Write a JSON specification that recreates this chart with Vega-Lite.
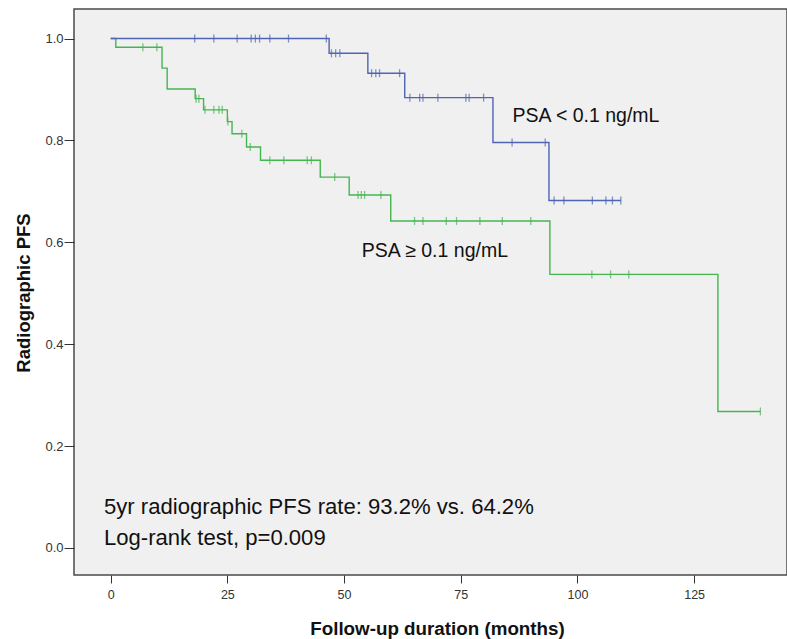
{
  "$schema": "https://vega.github.io/schema/vega-lite/v6.json",
  "width": 713,
  "height": 566,
  "autosize": {"type": "none"},
  "padding": {"left": 74, "top": 9, "right": 0, "bottom": 64},
  "background": "white",
  "config": {
    "font": "Liberation Sans",
    "view": {"fill": "#f0f0f0", "stroke": "#4a4a4a", "strokeWidth": 1.5},
    "axis": {"grid": false, "domain": false, "tickColor": "#333333", "tickWidth": 1, "labelColor": "#333333", "labelFont": "Liberation Sans", "titleFont": "Liberation Sans", "titleFontWeight": "bold", "titleColor": "#111111", "titleFontSize": 18.5}
  },
  "datasets": {
    "steps": [
      {"group": "PSA ≥ 0.1", "t": 0, "s": 1.0},
      {"group": "PSA ≥ 0.1", "t": 1.1, "s": 0.983},
      {"group": "PSA ≥ 0.1", "t": 11.0, "s": 0.942},
      {"group": "PSA ≥ 0.1", "t": 12.1, "s": 0.901},
      {"group": "PSA ≥ 0.1", "t": 18.1, "s": 0.882},
      {"group": "PSA ≥ 0.1", "t": 19.9, "s": 0.860},
      {"group": "PSA ≥ 0.1", "t": 25.0, "s": 0.837},
      {"group": "PSA ≥ 0.1", "t": 26.0, "s": 0.813},
      {"group": "PSA ≥ 0.1", "t": 29.1, "s": 0.787},
      {"group": "PSA ≥ 0.1", "t": 32.1, "s": 0.761},
      {"group": "PSA ≥ 0.1", "t": 44.9, "s": 0.728},
      {"group": "PSA ≥ 0.1", "t": 51.1, "s": 0.693},
      {"group": "PSA ≥ 0.1", "t": 60.0, "s": 0.642},
      {"group": "PSA ≥ 0.1", "t": 94.1, "s": 0.537},
      {"group": "PSA ≥ 0.1", "t": 130.1, "s": 0.268},
      {"group": "PSA ≥ 0.1", "t": 139.2, "s": 0.268},
      {"group": "PSA < 0.1", "t": 0, "s": 1.0},
      {"group": "PSA < 0.1", "t": 46.8, "s": 0.971},
      {"group": "PSA < 0.1", "t": 55.1, "s": 0.932},
      {"group": "PSA < 0.1", "t": 63.0, "s": 0.884},
      {"group": "PSA < 0.1", "t": 81.9, "s": 0.796},
      {"group": "PSA < 0.1", "t": 93.9, "s": 0.682},
      {"group": "PSA < 0.1", "t": 109.3, "s": 0.682}
    ],
    "censor": [
      {"group": "PSA ≥ 0.1", "t": 6.9, "s": 0.983},
      {"group": "PSA ≥ 0.1", "t": 9.9, "s": 0.983},
      {"group": "PSA ≥ 0.1", "t": 18.3, "s": 0.882},
      {"group": "PSA ≥ 0.1", "t": 18.9, "s": 0.882},
      {"group": "PSA ≥ 0.1", "t": 20.2, "s": 0.860},
      {"group": "PSA ≥ 0.1", "t": 22.1, "s": 0.860},
      {"group": "PSA ≥ 0.1", "t": 23.2, "s": 0.860},
      {"group": "PSA ≥ 0.1", "t": 23.9, "s": 0.860},
      {"group": "PSA ≥ 0.1", "t": 25.1, "s": 0.837},
      {"group": "PSA ≥ 0.1", "t": 28.1, "s": 0.813},
      {"group": "PSA ≥ 0.1", "t": 29.9, "s": 0.787},
      {"group": "PSA ≥ 0.1", "t": 34.1, "s": 0.761},
      {"group": "PSA ≥ 0.1", "t": 37.1, "s": 0.761},
      {"group": "PSA ≥ 0.1", "t": 42.1, "s": 0.761},
      {"group": "PSA ≥ 0.1", "t": 43.0, "s": 0.761},
      {"group": "PSA ≥ 0.1", "t": 48.0, "s": 0.728},
      {"group": "PSA ≥ 0.1", "t": 53.0, "s": 0.693},
      {"group": "PSA ≥ 0.1", "t": 53.7, "s": 0.693},
      {"group": "PSA ≥ 0.1", "t": 54.4, "s": 0.693},
      {"group": "PSA ≥ 0.1", "t": 57.9, "s": 0.693},
      {"group": "PSA ≥ 0.1", "t": 65.1, "s": 0.642},
      {"group": "PSA ≥ 0.1", "t": 66.9, "s": 0.642},
      {"group": "PSA ≥ 0.1", "t": 71.9, "s": 0.642},
      {"group": "PSA ≥ 0.1", "t": 74.1, "s": 0.642},
      {"group": "PSA ≥ 0.1", "t": 79.1, "s": 0.642},
      {"group": "PSA ≥ 0.1", "t": 83.9, "s": 0.642},
      {"group": "PSA ≥ 0.1", "t": 90.0, "s": 0.642},
      {"group": "PSA ≥ 0.1", "t": 103.1, "s": 0.537},
      {"group": "PSA ≥ 0.1", "t": 107.1, "s": 0.537},
      {"group": "PSA ≥ 0.1", "t": 111.0, "s": 0.537},
      {"group": "PSA ≥ 0.1", "t": 139.2, "s": 0.268},
      {"group": "PSA < 0.1", "t": 18.0, "s": 1.0},
      {"group": "PSA < 0.1", "t": 22.1, "s": 1.0},
      {"group": "PSA < 0.1", "t": 27.1, "s": 1.0},
      {"group": "PSA < 0.1", "t": 30.1, "s": 1.0},
      {"group": "PSA < 0.1", "t": 31.0, "s": 1.0},
      {"group": "PSA < 0.1", "t": 31.9, "s": 1.0},
      {"group": "PSA < 0.1", "t": 34.1, "s": 1.0},
      {"group": "PSA < 0.1", "t": 38.1, "s": 1.0},
      {"group": "PSA < 0.1", "t": 46.2, "s": 1.0},
      {"group": "PSA < 0.1", "t": 47.3, "s": 0.971},
      {"group": "PSA < 0.1", "t": 48.2, "s": 0.971},
      {"group": "PSA < 0.1", "t": 49.1, "s": 0.971},
      {"group": "PSA < 0.1", "t": 55.9, "s": 0.932},
      {"group": "PSA < 0.1", "t": 56.8, "s": 0.932},
      {"group": "PSA < 0.1", "t": 57.6, "s": 0.932},
      {"group": "PSA < 0.1", "t": 61.9, "s": 0.932},
      {"group": "PSA < 0.1", "t": 64.1, "s": 0.884},
      {"group": "PSA < 0.1", "t": 66.2, "s": 0.884},
      {"group": "PSA < 0.1", "t": 66.9, "s": 0.884},
      {"group": "PSA < 0.1", "t": 70.1, "s": 0.884},
      {"group": "PSA < 0.1", "t": 76.1, "s": 0.884},
      {"group": "PSA < 0.1", "t": 76.8, "s": 0.884},
      {"group": "PSA < 0.1", "t": 79.9, "s": 0.884},
      {"group": "PSA < 0.1", "t": 86.0, "s": 0.796},
      {"group": "PSA < 0.1", "t": 93.1, "s": 0.796},
      {"group": "PSA < 0.1", "t": 95.0, "s": 0.682},
      {"group": "PSA < 0.1", "t": 97.1, "s": 0.682},
      {"group": "PSA < 0.1", "t": 103.2, "s": 0.682},
      {"group": "PSA < 0.1", "t": 106.1, "s": 0.682},
      {"group": "PSA < 0.1", "t": 107.5, "s": 0.682},
      {"group": "PSA < 0.1", "t": 109.3, "s": 0.682}
    ],
    "labels": [
      {"label": "PSA < 0.1 ng/mL", "t": 86.1, "s": 0.8367, "size": "big"},
      {"label": "PSA ≥ 0.1 ng/mL", "t": 53.8, "s": 0.5706, "size": "big"},
      {"label": "5yr radiographic PFS rate: 93.2% vs. 64.2%", "t": -1.44, "s": 0.0667, "size": "note"},
      {"label": "Log-rank test, p=0.009", "t": -1.44, "s": 0.0059, "size": "note"}
    ]
  },
  "layer": [
    {
      "data": {"name": "steps"},
      "mark": {"type": "line", "interpolate": "step-after", "strokeWidth": 1.4},
      "encoding": {
        "x": {"field": "t", "type": "quantitative", "scale": {"domain": [-7.86, 144.9], "nice": false, "zero": false},
          "axis": {"values": [0, 25, 50, 75, 100, 125], "title": "Follow-up duration (months)", "tickSize": 8, "labelPadding": 5, "labelFontSize": 12.5, "titleFontSize": 18.8, "titleX": 363, "titleY": 59, "titleBaseline": "alphabetic", "titleAnchor": "middle", "titleAlign": "center"}},
        "y": {"field": "s", "type": "quantitative", "scale": {"domain": [-0.053, 1.058], "nice": false, "zero": false},
          "axis": {"values": [0, 0.2, 0.4, 0.6, 0.8, 1.0], "format": ".1f", "title": "Radiographic PFS", "tickSize": 10, "labelPadding": 1, "labelFontSize": 13, "titleX": -44.7, "titleY": 283.5, "titleAngle": -90, "titleBaseline": "alphabetic", "titleAlign": "center"}},
        "color": {"field": "group", "type": "nominal", "scale": {"domain": ["PSA ≥ 0.1", "PSA < 0.1"], "range": ["#45b550", "#4d65b4"]}, "legend": null},
        "order": {"field": "t", "type": "quantitative"}
      }
    },
    {
      "data": {"name": "censor"},
      "mark": {"type": "tick", "orient": "vertical", "size": 8, "thickness": 1.3},
      "encoding": {
        "x": {"field": "t", "type": "quantitative"},
        "y": {"field": "s", "type": "quantitative"},
        "color": {"field": "group", "type": "nominal", "legend": null}
      }
    },
    {
      "data": {"name": "labels"},
      "mark": {"type": "text", "align": "left", "baseline": "alphabetic", "font": "Liberation Sans", "color": "#111111"},
      "encoding": {
        "x": {"field": "t", "type": "quantitative"},
        "y": {"field": "s", "type": "quantitative"},
        "text": {"field": "label"},
        "size": {"field": "size", "type": "nominal", "scale": {"domain": ["big", "note"], "range": [19.5, 22.1]}, "legend": null}
      }
    }
  ]
}
